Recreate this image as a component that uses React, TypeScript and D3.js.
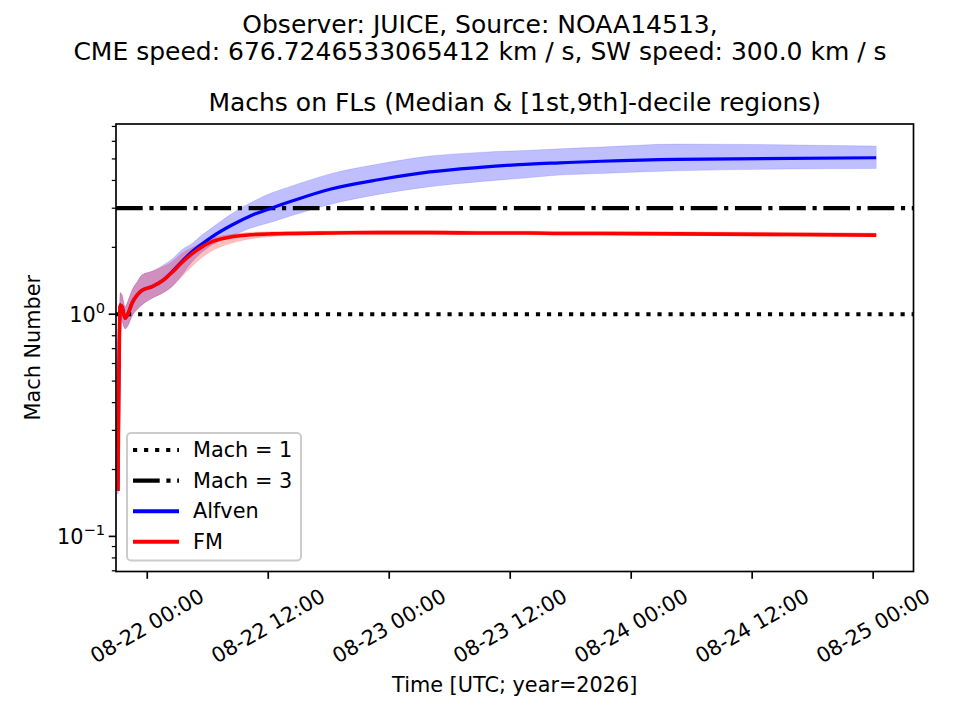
import React, { useRef, useEffect } from 'react';
import * as d3 from 'd3';

// hours after 2026-08-22 00:00 UTC
const hours = [
  -2.91, -2.68, -2.5, -2.2, -1.85, -1.52, -1.0, -0.53, 0.47, 1.46, 2.45, 3.44, 4.43, 5.42, 6.42,
  8.4, 10.38, 12.37, 14.35, 18.12, 23.07, 28.03, 32.99, 37.95, 40.9, 45.0, 52.5, 72.3,
];

// Alfven Mach: median and 1st / 9th decile
const alfvenMedian = [
  0.16, 1.1, 1.08, 0.96, 1.02, 1.12, 1.22, 1.28, 1.33, 1.41, 1.55, 1.73, 1.91, 2.07, 2.23, 2.52,
  2.79, 3.01, 3.23, 3.65, 4.04, 4.37, 4.58, 4.74, 4.8, 4.88, 4.98, 5.06,
];
const alfvenLow = [
  0.155, 0.97, 0.93, 0.86, 0.9, 0.98, 1.05, 1.1, 1.18, 1.24, 1.33, 1.5, 1.72, 1.9, 2.05, 2.25,
  2.45, 2.6, 2.78, 3.12, 3.47, 3.75, 3.95, 4.12, 4.23, 4.3, 4.42, 4.53,
];
const alfvenHigh = [
  0.17, 1.25, 1.22, 1.08, 1.17, 1.28, 1.4, 1.5, 1.56, 1.65, 1.77, 1.95, 2.08, 2.27, 2.45, 2.84,
  3.2, 3.52, 3.78, 4.28, 4.75, 5.15, 5.35, 5.47, 5.55, 5.65, 5.83, 5.71,
];

// Fast-magnetosonic Mach: median and 1st / 9th decile
const fmMedian = [
  0.16, 1.1, 1.08, 0.96, 1.02, 1.12, 1.22, 1.28, 1.33, 1.41, 1.54, 1.71, 1.87, 2.01, 2.12, 2.23,
  2.28, 2.3, 2.31, 2.32, 2.33, 2.33, 2.32, 2.32, 2.31, 2.31, 2.3, 2.27,
];
const fmLow = [
  0.155, 0.97, 0.93, 0.86, 0.9, 0.98, 1.05, 1.1, 1.18, 1.24, 1.33, 1.48, 1.64, 1.8, 1.93, 2.09,
  2.19, 2.24, 2.26, 2.28, 2.29, 2.29, 2.28, 2.28, 2.27, 2.27, 2.26, 2.23,
];
const fmHigh = [
  0.17, 1.25, 1.22, 1.08, 1.17, 1.28, 1.4, 1.5, 1.56, 1.63, 1.72, 1.88, 1.99, 2.1, 2.2, 2.29,
  2.34, 2.35, 2.36, 2.37, 2.38, 2.38, 2.37, 2.37, 2.36, 2.36, 2.35, 2.32,
];

const machLevels = [1, 3];
const xDomainHours = [-3.1, 76.0];
const yDomain = [0.0695, 7.18];

const suptitleLines = [
  'Observer: JUICE, Source: NOAA14513,',
  'CME speed: 676.7246533065412 km / s, SW speed: 300.0 km / s',
];
const title = 'Machs on FLs (Median & [1st,9th]-decile regions)';

const START = Date.UTC(2026, 7, 22, 0, 0, 0);
const toDate = (h: number) => new Date(START + h * 3600 * 1000);

const FONT = "'DejaVu Sans', 'Liberation Sans', sans-serif";

const MachChart: React.FC = () => {
  const svgRef = useRef<SVGSVGElement>(null);

  useEffect(() => {
    const svg = d3.select(svgRef.current);
    svg.selectAll('*').remove();

    const left = 116;
    const right = 913.5;
    const top = 124;
    const bottom = 571.5;

    const x = d3
      .scaleUtc()
      .domain([toDate(xDomainHours[0]), toDate(xDomainHours[1])])
      .range([left, right]);
    const y = d3.scaleLog().domain(yDomain).range([bottom, top]);

    svg.append('rect').attr('width', 960).attr('height', 720).attr('fill', 'white');

    // titles
    suptitleLines.forEach((t, i) => {
      svg
        .append('text')
        .attr('x', 480)
        .attr('y', 33 + i * 27)
        .attr('text-anchor', 'middle')
        .style('font-family', FONT)
        .style('font-size', '25px')
        .text(t);
    });
    svg
      .append('text')
      .attr('x', (left + right) / 2)
      .attr('y', 111)
      .attr('text-anchor', 'middle')
      .style('font-family', FONT)
      .style('font-size', '25px')
      .text(title);

    svg
      .append('defs')
      .append('clipPath')
      .attr('id', 'plot-clip')
      .append('rect')
      .attr('x', left)
      .attr('y', top)
      .attr('width', right - left)
      .attr('height', bottom - top);

    const plot = svg.append('g').attr('clip-path', 'url(#plot-clip)');

    const idx = d3.range(hours.length);

    const area = (lo: number[], hi: number[]) =>
      d3
        .area<number>()
        .x(i => x(toDate(hours[i])))
        .y0(i => y(lo[i]))
        .y1(i => y(hi[i]))
        .curve(d3.curveMonotoneX)(idx) || '';

    const line = (vals: number[]) =>
      d3
        .line<number>()
        .x(i => x(toDate(hours[i])))
        .y(i => y(vals[i]))
        .curve(d3.curveMonotoneX)(idx) || '';

    // decile bands
    plot
      .append('path')
      .attr('d', area(alfvenLow, alfvenHigh))
      .attr('fill', 'rgba(0,0,255,0.25)')
      .attr('stroke', 'rgba(0,0,255,0.12)')
      .attr('stroke-width', 1);
    plot
      .append('path')
      .attr('d', area(fmLow, fmHigh))
      .attr('fill', 'rgba(255,0,0,0.25)')
      .attr('stroke', 'rgba(255,0,0,0.12)')
      .attr('stroke-width', 1);

    // Mach = 1 and Mach = 3 reference lines
    plot
      .append('line')
      .attr('x1', left)
      .attr('x2', right)
      .attr('y1', y(machLevels[0]))
      .attr('y2', y(machLevels[0]))
      .attr('stroke', 'black')
      .attr('stroke-width', 4.17)
      .attr('stroke-dasharray', '4.17 6.88');
    plot
      .append('line')
      .attr('x1', left)
      .attr('x2', right)
      .attr('y1', y(machLevels[1]))
      .attr('y2', y(machLevels[1]))
      .attr('stroke', 'black')
      .attr('stroke-width', 4.17)
      .attr('stroke-dasharray', '26.7 6.67 4.17 6.67');

    // medians
    plot
      .append('path')
      .attr('d', line(alfvenMedian))
      .attr('fill', 'none')
      .attr('stroke', '#0000ff')
      .attr('stroke-width', 3.2)
      .attr('stroke-linejoin', 'round');
    plot
      .append('path')
      .attr('d', line(fmMedian))
      .attr('fill', 'none')
      .attr('stroke', '#ff0000')
      .attr('stroke-width', 3.6)
      .attr('stroke-linejoin', 'round');

    // axes frame
    svg
      .append('rect')
      .attr('x', left)
      .attr('y', top)
      .attr('width', right - left)
      .attr('height', bottom - top)
      .attr('fill', 'none')
      .attr('stroke', 'black')
      .attr('stroke-width', 1.67);

    // x ticks
    const xTicks = x.ticks(d3.utcHour.every(12) as d3.TimeInterval);
    const fmt = d3.utcFormat('%m-%d %H:%M');
    xTicks.forEach(t => {
      const px = x(t);
      svg
        .append('line')
        .attr('x1', px)
        .attr('x2', px)
        .attr('y1', bottom)
        .attr('y2', bottom + 7.3)
        .attr('stroke', 'black')
        .attr('stroke-width', 1.67);
      svg
        .append('text')
        .attr('transform', `translate(${px},${626}) rotate(-30)`)
        .attr('text-anchor', 'middle')
        .attr('dominant-baseline', 'central')
        .style('font-family', FONT)
        .style('font-size', '20.8px')
        .text(fmt(t));
    });

    // y ticks (log)
    const yTicks = y.ticks().filter(v => v >= yDomain[0] && v <= yDomain[1]);
    yTicks.forEach(v => {
      const exp = Math.log10(v);
      const major = Math.abs(exp - Math.round(exp)) < 1e-9;
      const py = y(v);
      svg
        .append('line')
        .attr('x1', left - (major ? 7.3 : 4.2))
        .attr('x2', left)
        .attr('y1', py)
        .attr('y2', py)
        .attr('stroke', 'black')
        .attr('stroke-width', major ? 1.67 : 1.25);
      if (major) {
        const e = Math.round(exp);
        const label = svg
          .append('text')
          .attr('x', 105)
          .attr('y', py + 7.5)
          .attr('text-anchor', 'end')
          .style('font-family', FONT)
          .style('font-size', '20.8px');
        label.append('tspan').text('10');
        label
          .append('tspan')
          .attr('dy', -9)
          .style('font-size', '14.6px')
          .text(e < 0 ? `\u2212${-e}` : `${e}`);
      }
    });

    // axis labels
    svg
      .append('text')
      .attr('x', (left + right) / 2)
      .attr('y', 692)
      .attr('text-anchor', 'middle')
      .style('font-family', FONT)
      .style('font-size', '20.8px')
      .text('Time [UTC; year=2026]');
    svg
      .append('text')
      .attr('transform', `translate(40,${(top + bottom) / 2}) rotate(-90)`)
      .attr('text-anchor', 'middle')
      .style('font-family', FONT)
      .style('font-size', '20.8px')
      .text('Mach Number');

    // legend
    const legend = svg.append('g');
    legend
      .append('rect')
      .attr('x', 127)
      .attr('y', 433)
      .attr('width', 174)
      .attr('height', 127.5)
      .attr('rx', 4)
      .attr('fill', 'rgba(255,255,255,0.8)')
      .attr('stroke', '#cccccc')
      .attr('stroke-width', 2);

    const items = [
      { label: 'Mach = 1', color: 'black', dash: '4.17 6.88', width: 4.17 },
      { label: 'Mach = 3', color: 'black', dash: '26.7 6.67 4.17 6.67', width: 4.17 },
      { label: 'Alfven', color: '#0000ff', dash: null, width: 4 },
      { label: 'FM', color: '#ff0000', dash: null, width: 4 },
    ];
    items.forEach((it, i) => {
      const cy = 450 + i * 30.6;
      legend
        .append('line')
        .attr('x1', 133)
        .attr('x2', 179)
        .attr('y1', cy)
        .attr('y2', cy)
        .attr('stroke', it.color)
        .attr('stroke-width', it.width)
        .attr('stroke-dasharray', it.dash);
      legend
        .append('text')
        .attr('x', 193)
        .attr('y', cy)
        .attr('dominant-baseline', 'central')
        .style('font-family', FONT)
        .style('font-size', '20.8px')
        .text(it.label);
    });
  }, []);

  return <svg ref={svgRef} width={960} height={720} style={{ display: 'block' }} />;
};

export default function App() {
  return (
    <div style={{ position: 'fixed', left: 0, top: 0, width: 960, height: 720, background: 'white' }}>
      <MachChart />
    </div>
  );
}
